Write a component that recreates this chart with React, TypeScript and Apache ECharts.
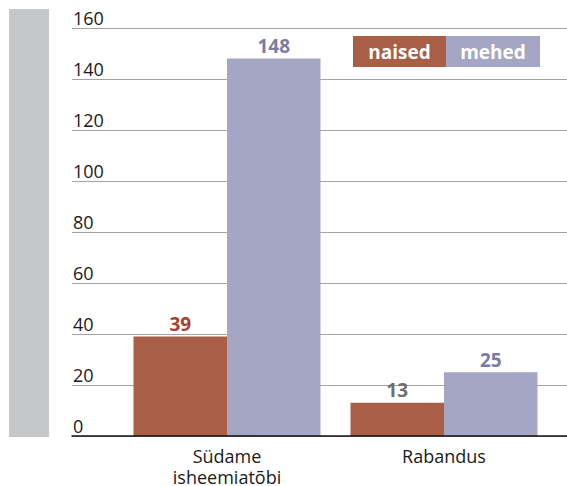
import React, { useEffect, useRef } from "react";
import * as echarts from "echarts";

const categories = ["Südame\nisheemiatõbi", "Rabandus"];
const seriesNames = ["naised", "mehed"];
const naised = [39, 13];
const mehed = [148, 25];
const naisedLabelColors = ["#a5412e", "#6e6e6e"];
const mehedLabelColors = ["#7a7ca3", "#7a7ca3"];
const seriesColors = ["#a95e46", "#a5a6c4"];
const yMin = 0;
const yMax = 160;
const yStep = 20;

const FONT = "'Open Sans', 'Noto Sans', sans-serif";

export default function App() {
  const ref = useRef<HTMLDivElement>(null);
  useEffect(() => {
    if (!ref.current) return;
    const chart = echarts.init(ref.current, null, { renderer: "svg" });
    const mkData = (vals: number[], cols: string[]) =>
      vals.map((v, i) => ({ value: v, label: { color: cols[i] } }));
    chart.setOption({
      animation: false,
      textStyle: { fontFamily: FONT },
      graphic: [
        {
          type: "rect",
          shape: { x: 9, y: 9, width: 40, height: 428 },
          style: { fill: "#c6c7c8" },
          z: -1,
        },
      ],
      legend: {
        data: seriesNames,
        left: 348,
        top: 36,
        padding: 0,
        itemGap: -5,
        itemWidth: 0,
        itemHeight: 31,
        icon: "none",
        selectedMode: false,
        formatter: (name: string) => `{${name}|${name}}`,
        textStyle: {
          rich: {
            naised: {
              backgroundColor: seriesColors[0],
              width: 93,
              height: 31,
              lineHeight: 31,
              align: "center",
              color: "#ffffff",
              fontWeight: "bold",
              fontSize: 19,
              fontFamily: FONT,
            },
            mehed: {
              backgroundColor: seriesColors[1],
              width: 94,
              height: 31,
              lineHeight: 31,
              align: "center",
              color: "#ffffff",
              fontWeight: "bold",
              fontSize: 19,
              fontFamily: FONT,
            },
          },
        },
      },
      grid: [
        { left: 72, right: 0, top: 28, height: 408, containLabel: false, outerBoundsMode: "none" },
        { left: 118.5, width: 434, top: 28, height: 408, containLabel: false, outerBoundsMode: "none" },
      ],
      xAxis: [
        {
          gridIndex: 0,
          type: "category",
          data: [""],
          axisLine: { show: true, onZero: false, lineStyle: { color: "#111", width: 1.5 } },
          axisTick: { show: false },
          axisLabel: { show: false },
          splitLine: { show: false },
          z: 5,
        },
        {
          gridIndex: 1,
          type: "category",
          data: categories,
          axisLine: { show: false },
          axisTick: { show: false },
          axisLabel: {
            margin: 9,
            fontSize: 18,
            lineHeight: 21,
            color: "#1a1a1a",
            fontFamily: FONT,
          },
        },
      ],
      yAxis: [
        {
          gridIndex: 0,
          type: "value",
          min: yMin,
          max: yMax,
          interval: yStep,
          axisLine: { show: false },
          axisTick: { show: false },
          splitLine: { show: true, lineStyle: { color: "#a3a3a3", width: 1.2 } },
          axisLabel: {
            inside: true,
            margin: 1,
            verticalAlign: "bottom",
            lineHeight: 20,
            fontSize: 18,
            color: "#1a1a1a",
            fontFamily: FONT,
          },
        },
        {
          gridIndex: 1,
          type: "value",
          min: yMin,
          max: yMax,
          interval: yStep,
          show: false,
        },
      ],
      series: [
        {
          name: seriesNames[0],
          type: "bar",
          xAxisIndex: 1,
          yAxisIndex: 1,
          barWidth: 93.5,
          barGap: "0%",
          itemStyle: { color: seriesColors[0] },
          label: {
            show: true,
            position: "top",
            distance: 3,
            fontWeight: "bold",
            fontSize: 19,
            fontFamily: FONT,
          },
          data: mkData(naised, naisedLabelColors),
        },
        {
          name: seriesNames[1],
          type: "bar",
          xAxisIndex: 1,
          yAxisIndex: 1,
          barWidth: 93.5,
          barGap: "0%",
          itemStyle: { color: seriesColors[1] },
          label: {
            show: true,
            position: "top",
            distance: 3,
            fontWeight: "bold",
            fontSize: 19,
            fontFamily: FONT,
          },
          data: mkData(mehed, mehedLabelColors),
        },
      ],
    });
    return () => chart.dispose();
  }, []);
  return <div ref={ref} style={{ width: 567, height: 486, position: "absolute", left: 0, top: 0 }} />;
}
